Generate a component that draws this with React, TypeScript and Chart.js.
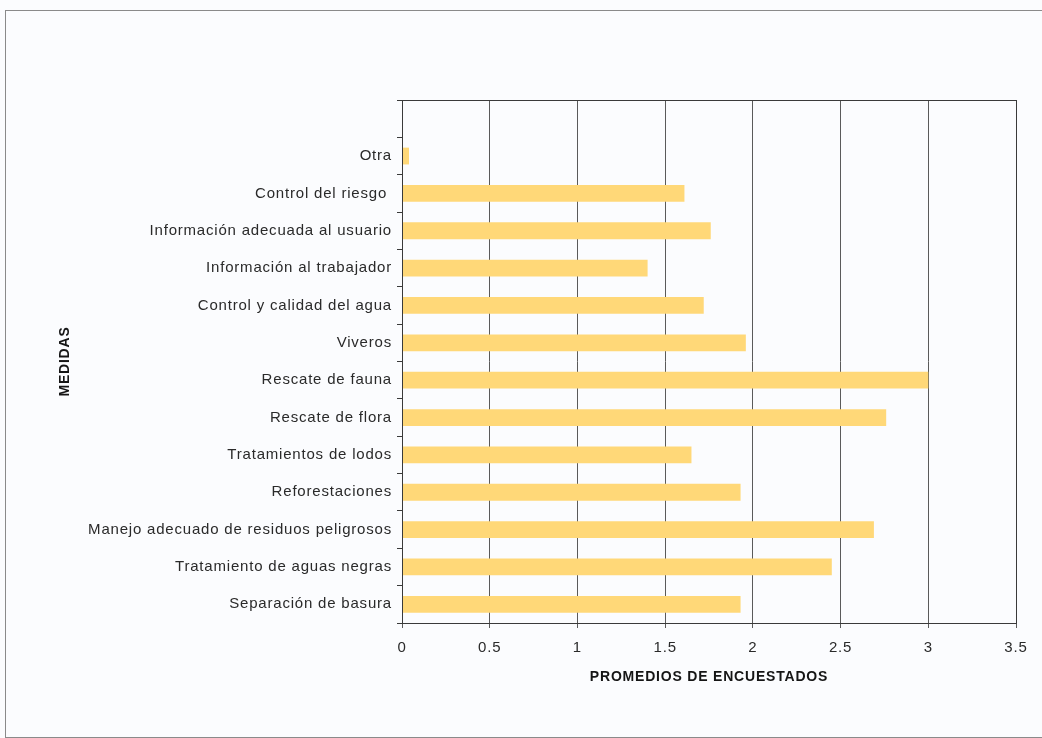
import React, { useEffect, useRef } from "react";
import { Chart, registerables } from "chart.js";

Chart.register(...registerables);

// The original chart keeps one empty category slot at the top.
const categories = [
  "",
  "Otra",
  "Control del riesgo ",
  "Información adecuada al usuario",
  "Información al trabajador",
  "Control y calidad del agua",
  "Viveros",
  "Rescate de fauna",
  "Rescate de flora",
  "Tratamientos de lodos",
  "Reforestaciones",
  "Manejo adecuado de residuos peligrosos",
  "Tratamiento de aguas negras",
  "Separación de basura",
];

const promedios = [null, 0.04, 1.61, 1.76, 1.4, 1.72, 1.96, 3.0, 2.76, 1.65, 1.93, 2.69, 2.45, 1.93];

const xTitle = "PROMEDIOS DE ENCUESTADOS";
const yTitle = "MEDIDAS";

const FONT = "'Liberation Sans', Arial, sans-serif";

export default function App() {
  const canvasRef = useRef<HTMLCanvasElement | null>(null);

  useEffect(() => {
    if (!canvasRef.current) return;

    const spacingPlugin = {
      id: "spacing",
      beforeDraw(chart: any) {
        chart.ctx.letterSpacing = "0.8px";
      },
      afterDatasetsDraw(chart: any) {
        const { ctx, chartArea } = chart;
        ctx.save();
        ctx.strokeStyle = "#3a3a3a";
        ctx.lineWidth = 1;
        ctx.strokeRect(
          Math.round(chartArea.left) + 0.5,
          Math.round(chartArea.top) + 0.5,
          Math.round(chartArea.right - chartArea.left),
          Math.round(chartArea.bottom - chartArea.top)
        );
        ctx.restore();
      },
    };

    const chart = new Chart(canvasRef.current, {
      type: "bar",
      data: {
        labels: categories,
        datasets: [
          {
            data: promedios,
            backgroundColor: "#FFD878",
            borderWidth: 0,
            barPercentage: 0.45,
            categoryPercentage: 1,
          },
        ],
      },
      options: {
        indexAxis: "y",
        responsive: false,
        animation: false,
        layout: { padding: { left: 50, top: 100, right: 26, bottom: 45 } },
        plugins: {
          legend: { display: false },
          tooltip: { enabled: false },
        },
        scales: {
          x: {
            min: 0,
            max: 3.5,
            afterFit(scale: any) {
              scale.height = 70;
            },
            ticks: {
              stepSize: 0.5,
              padding: 11,
              color: "#2a2a2a",
              font: { family: FONT, size: 15 },
              callback: (v: any) => String(Number(v)),
            },
            grid: {
              color: "#5a5a5a",
              lineWidth: 1,
              drawTicks: true,
              tickLength: 5,
            },
            border: { display: true, color: "#3a3a3a" },
            title: {
              display: true,
              text: xTitle,
              color: "#151515",
              font: { family: FONT, size: 14, weight: "bold" },
              padding: { top: 0, bottom: 7 },
            },
          },
          y: {
            afterFit(scale: any) {
              scale.width = 352;
            },
            ticks: {
              padding: 5,
              color: "#2a2a2a",
              font: { family: FONT, size: 15 },
            },
            grid: {
              offset: true,
              drawOnChartArea: false,
              drawTicks: true,
              tickLength: 5,
              color: "#3a3a3a",
            },
            border: { display: true, color: "#3a3a3a" },
            title: {
              display: true,
              text: yTitle,
              color: "#151515",
              font: { family: FONT, size: 14, weight: "bold" },
              padding: { top: 7, bottom: 0 },
            },
          },
        },
      },
      plugins: [spacingPlugin],
    } as any);

    return () => chart.destroy();
  }, []);

  return (
    <div
      style={{
        position: "absolute",
        left: 0,
        top: 0,
        width: 1042,
        height: 738,
        background: "#FBFCFE",
        overflow: "hidden",
      }}
    >
      <div
        style={{
          position: "absolute",
          left: 5,
          top: 10,
          width: 1050,
          height: 726,
          borderLeft: "1px solid #8a8a8a",
          borderTop: "1px solid #8a8a8a",
          borderBottom: "1px solid #8a8a8a",
        }}
      />
      <canvas
        ref={canvasRef}
        width={1042}
        height={738}
        style={{ position: "absolute", left: 0, top: 0, width: 1042, height: 738 }}
      />
    </div>
  );
}
